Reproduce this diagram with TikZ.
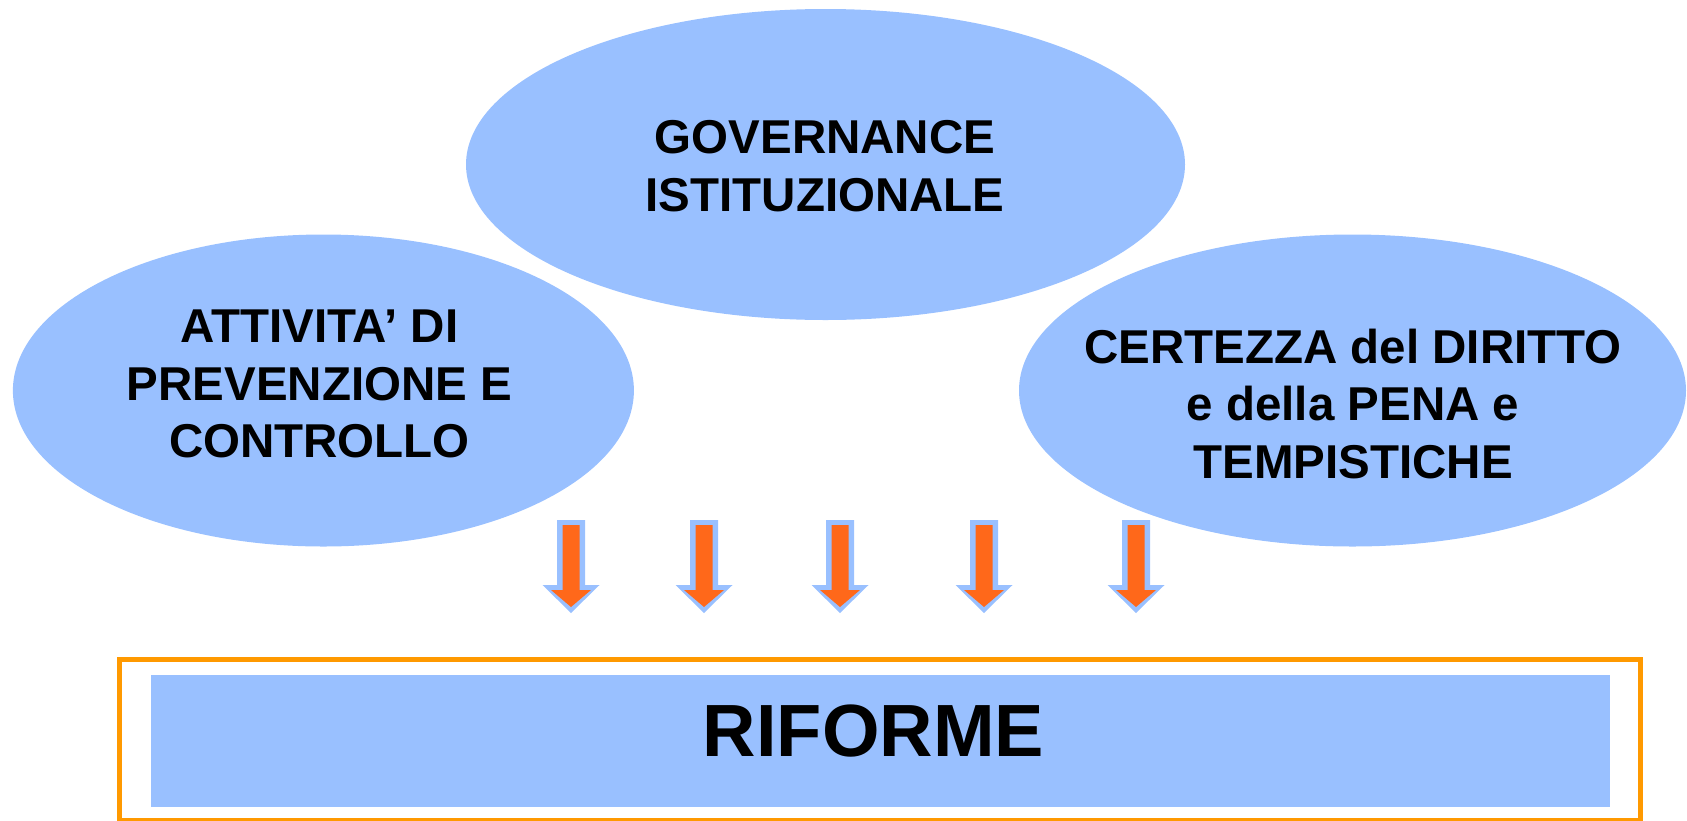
\documentclass[tikz,border=0pt]{standalone}
\usepackage{fontspec}
\setmainfont{Liberation Sans}
\usetikzlibrary{shapes.geometric}
\definecolor{bubbleblue}{RGB}{153,192,255}
\definecolor{arroworange}{RGB}{255,104,26}
\definecolor{frameorange}{RGB}{255,153,0}
\tikzset{
    bubble/.style={ellipse, fill=bubbleblue, inner sep=0pt},
    bubbletext/.style={align=center, inner sep=0pt, font=\bfseries\fontsize{47.5}{57.5}\selectfont},
}
\begin{document}
\begin{tikzpicture}[x=1pt, y=-1pt]
        \useasboundingbox (0,0) rectangle (1687,820);

        % Ellipses (top one first, the others overlap it)
        \node[bubble, minimum width=719pt, minimum height=311pt] (gov) at (825.5,164.5) {};
        \node[bubble, minimum width=621pt, minimum height=312pt] (prev) at (323.4,390.5) {};
        \node[bubble, minimum width=667pt, minimum height=312pt] (cert) at (1352.5,390.5) {};

        % Ellipse texts
        \node[bubbletext] (govtext) at (825,166.2) {GOVERNANCE\\ISTITUZIONALE};
        \node[bubbletext] (prevtext) at (319.5,384.2) {ATTIVITA’ DI\\PREVENZIONE E\\CONTROLLO};
        \node[bubbletext] (certtext) at (1353,403.9) {CERTEZZA del DIRITTO\\e della PENA e\\TEMPISTICHE};

        % Block arrows
        \foreach \x in {571,704,840,984,1136} {
            \fill[bubbleblue] ({\x-14},520) -- ({\x+14},520) -- ({\x+14},585) -- ({\x+28.5},585)
                -- (\x,613) -- ({\x-28.5},585) -- ({\x-14},585) -- cycle;
            \fill[arroworange] ({\x-8.5},525) -- ({\x+8.5},525) -- ({\x+8.5},590) -- ({\x+20},590)
                -- (\x,607) -- ({\x-20},590) -- ({\x-8.5},590) -- cycle;
        }

        % Bottom box
        \node[draw=frameorange, line width=5pt, minimum width=1521pt, minimum height=161pt, inner sep=0pt] (frame) at (880,740) {};
        \node[fill=bubbleblue, minimum width=1459pt, minimum height=132pt, inner sep=0pt] (reform) at (880.5,741) {};
        \node[inner sep=0pt, font=\bfseries\fontsize{74}{80}\selectfont] (reformtext) at (873.5,731) {RIFORME};

    \end{tikzpicture}
\end{document}
